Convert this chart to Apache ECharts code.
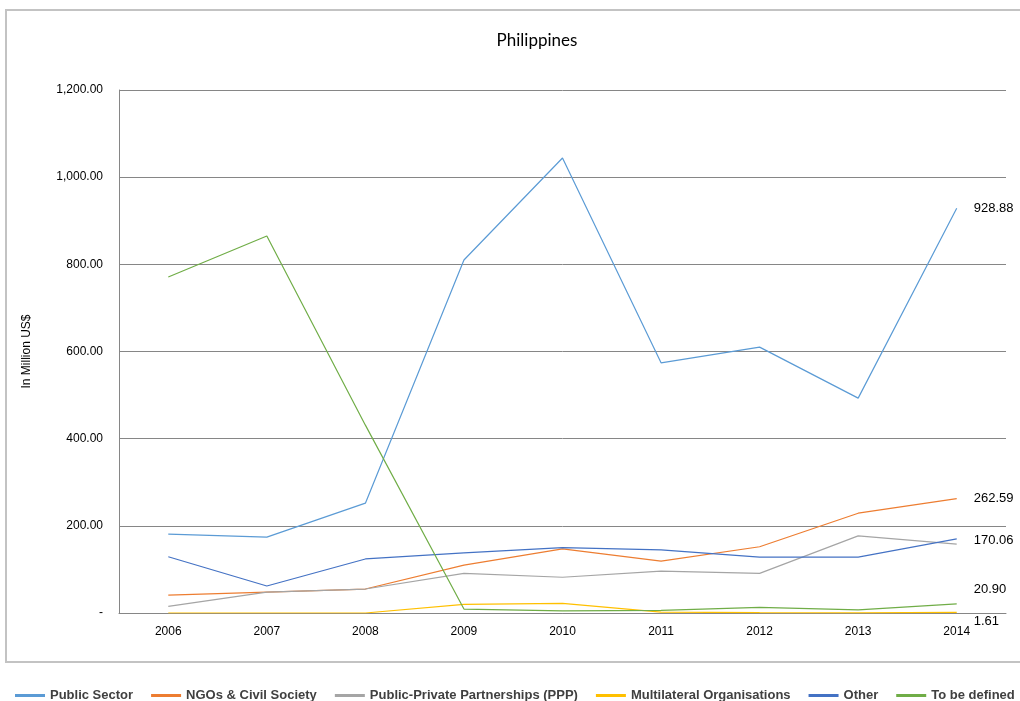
<!DOCTYPE html>
<html>
<head>
<meta charset="utf-8">
<script src="https://cdn.jsdelivr.net/npm/echarts@6/dist/echarts.min.js"></script>
<style>
	html, body { margin: 0; padding: 0; background: #fff; }
	#chart { width: 1020px; height: 701px; }
</style>
</head>
<body>
<div id="chart"></div>
<script>
	// 年份
	var years = ['2006', '2007', '2008', '2009', '2010', '2011', '2012', '2013', '2014'];
	var yTicks = [0, 200, 400, 600, 800, 1000, 1200];
	// series values
	var publicSector = [181, 174, 252, 810, 1044, 574, 610, 493, 928.88];
	var ngos = [41, 48, 55, 110, 147, 119, 152, 229, 262.59];
	var ppp = [15, 48, 55, 91, 82, 96, 91, 177, 158];
	var multilateral = [0, 0, 0, 20, 22, 2, 1, 0.5, 1.61];
	var other = [129, 62, 124, 138, 150, 145, 128, 128, 170.06];
	var toBeDefined = [771, 865, 431, 9, 5, 6, 13, 7, 20.90];

	var names = ['Public Sector', 'NGOs & Civil Society', 'Public-Private Partnerships (PPP)', 'Multilateral Organisations', 'Other', 'To be defined'];
	var colors = ['#5B9BD5', '#ED7D31', '#A5A5A5', '#FFC000', '#4472C4', '#70AD47'];

	function makeSeries(name, arr, color, offset) {
		return {
			name: name,
			type: 'line',
			symbol: 'none',
			data: arr,
			lineStyle: { color: color, width: 1.2 },
			itemStyle: { color: color },
			endLabel: {
				show: offset !== null,
				distance: 17,
				offset: offset || [0, 0],
				color: '#000',
				fontSize: 13,
				fontFamily: 'Liberation Sans',
				formatter: function(p) { return p.value.toFixed(2); }
			},
			z: 3
		};
	}

	var myChart = echarts.init(document.getElementById('chart'));
	myChart.setOption({
		animation: false,
		title: {
			text: 'Philippines',
			left: 532,
			textAlign: 'center',
			top: 27,
			textStyle: { fontSize: 17, fontWeight: 'normal', color: '#000', fontFamily: 'Lato' }
		},
		legend: {
			data: names,
			left: 10,
			top: 684,
			width: 1010,
			icon: 'rect',
			itemWidth: 30,
			itemHeight: 3,
			itemGap: 18,
			itemTextGap: 5,
			textStyle: { fontSize: 13, color: '#404040', fontWeight: 'bold', fontFamily: 'Liberation Sans' }
		},
		graphic: [{
			type: 'rect',
			shape: { x: 6, y: 10, width: 1030, height: 652 },
			style: { fill: 'none', stroke: '#c3c3c3', lineWidth: 2 },
			silent: true
		}],
		grid: { left: 119, right: 14, top: 90, bottom: 88 },
		xAxis: {
			type: 'category',
			data: years,
			boundaryGap: true,
			axisLine: { lineStyle: { color: '#868686', width: 1 } },
			axisTick: { show: false },
			axisLabel: { color: '#000', fontSize: 12, margin: 13, fontFamily: 'Liberation Sans' }
		},
		yAxis: {
			type: 'value',
			name: 'In Million US$',
			nameLocation: 'middle',
			nameGap: 86,
			nameTextStyle: { color: '#000', fontSize: 12, fontFamily: 'Liberation Sans' },
			min: yTicks[0],
			max: yTicks[yTicks.length - 1],
			interval: 200,
			axisLine: { show: true, lineStyle: { color: '#868686' } },
			axisTick: { show: false },
			splitLine: { lineStyle: { color: '#868686', width: 1 } },
			axisLabel: {
				color: '#000',
				fontSize: 12,
				margin: 16,
				fontFamily: 'Liberation Sans',
				formatter: function(v) {
					if(v === 0) return '-';
					return v.toLocaleString('en-US', { minimumFractionDigits: 2, maximumFractionDigits: 2 });
				}
			}
		},
		series: [
			makeSeries(names[0], publicSector, colors[0], [0, 0]),
			makeSeries(names[1], ngos, colors[1], [0, 0]),
			makeSeries(names[2], ppp, colors[2], null),
			makeSeries(names[3], multilateral, colors[3], [0, 9]),
			makeSeries(names[4], other, colors[4], [0, 2]),
			makeSeries(names[5], toBeDefined, colors[5], [0, -14])
		]
	});
</script>
</body>
</html>
